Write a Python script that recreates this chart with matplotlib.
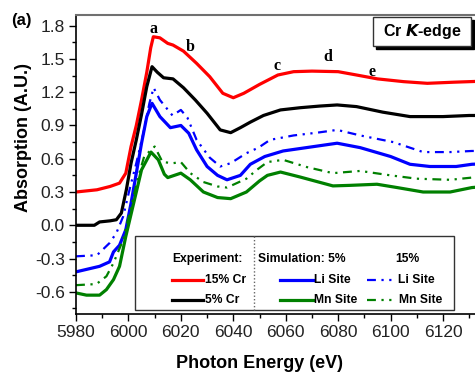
import matplotlib
matplotlib.use("Agg")
import matplotlib.pyplot as plt
from matplotlib.lines import Line2D
from matplotlib.patches import Rectangle
from matplotlib.ticker import MultipleLocator

plt.rcParams['font.family'] = ['Liberation Sans', 'DejaVu Sans']

# ---------------- data ----------------
red_x = [5980, 5988, 5993, 5996.6, 5999, 6001, 6003, 6005, 6007, 6008.5, 6009.5, 6012, 6015, 6017,
         6021, 6026, 6031, 6036, 6040, 6044, 6050, 6057, 6063, 6070, 6080, 6087, 6095, 6105, 6114,
         6124, 6136]
red_y = [0.30, 0.32, 0.35, 0.38, 0.47, 0.71, 0.90, 1.13, 1.38, 1.60, 1.70, 1.69, 1.64, 1.625,
         1.57, 1.46, 1.34, 1.19, 1.15, 1.19, 1.27, 1.355, 1.385, 1.39, 1.385, 1.355, 1.32, 1.295,
         1.28, 1.29, 1.30]

blk_x = [5980, 5987, 5989, 5993, 5995.4, 5997.3, 5999.2, 6001, 6003, 6005, 6007, 6009, 6011,
         6013.4, 6017, 6021, 6025.5, 6030, 6035, 6039, 6042.7, 6046.5, 6051.5, 6058, 6065.5,
         6073, 6079.6, 6087, 6097, 6107.4, 6120, 6130, 6136]
blk_y = [0.0, 0.0, 0.03, 0.04, 0.05, 0.11, 0.32, 0.56, 0.77, 1.00, 1.25, 1.43, 1.38, 1.33, 1.32,
         1.24, 1.13, 1.01, 0.86, 0.835, 0.88, 0.93, 0.99, 1.04, 1.06, 1.075, 1.085, 1.07, 1.02,
         0.98, 0.98, 0.99, 0.99]

li5_x = [5980, 5989, 5992.8, 5994.3, 5996.6, 5999, 6001, 6003, 6005, 6007, 6009, 6012, 6016,
         6020, 6023, 6026, 6030, 6034, 6037.6, 6042.7, 6046.5, 6052, 6059, 6069.3, 6079.6,
         6088.4, 6100, 6107.4, 6115, 6125, 6131, 6136]
li5_y = [-0.42, -0.37, -0.33, -0.24, -0.18, -0.04, 0.20, 0.47, 0.74, 0.98, 1.10, 0.98, 0.88,
         0.90, 0.83, 0.68, 0.53, 0.45, 0.41, 0.45, 0.55, 0.62, 0.67, 0.705, 0.74, 0.70, 0.62,
         0.55, 0.53, 0.53, 0.55, 0.555]

li15_x = [5980, 5988, 5992.8, 5995.4, 5998, 6000.4, 6003, 6005.7, 6008, 6009.6, 6012, 6016.8,
          6020, 6022.5, 6026, 6031, 6035, 6039, 6045, 6049.6, 6054, 6063, 6072, 6079.6, 6088.4,
          6101, 6112.4, 6122.7, 6131, 6136]
li15_y = [-0.28, -0.27, -0.16, -0.07, 0.08, 0.32, 0.56, 0.83, 1.10, 1.24, 1.13, 0.99, 1.04, 0.97,
          0.77, 0.61, 0.53, 0.56, 0.65, 0.70, 0.77, 0.81, 0.835, 0.86, 0.81, 0.75, 0.66, 0.66,
          0.67, 0.67]

mn5_x = [5980, 5984, 5989, 5991.6, 5994.3, 5996.6, 5999, 6002, 6005, 6008.6, 6011.4, 6013.7,
         6015, 6020, 6023.6, 6028.6, 6034, 6039, 6045, 6050, 6053, 6058, 6065.5, 6078, 6084.6,
         6094.8, 6102.5, 6112.4, 6122.7, 6131, 6136]
mn5_y = [-0.61, -0.63, -0.63, -0.58, -0.49, -0.37, -0.10, 0.20, 0.50, 0.66, 0.59, 0.46, 0.43,
         0.47, 0.41, 0.30, 0.25, 0.24, 0.30, 0.40, 0.45, 0.48, 0.435, 0.355, 0.36, 0.37, 0.34,
         0.30, 0.30, 0.34, 0.35]

mn15_x = [5980, 5987.8, 5991.6, 5994.3, 5998, 6000.4, 6003.8, 6006, 6010, 6013, 6017, 6020,
          6023.6, 6028.6, 6034, 6037.6, 6045, 6049, 6053, 6059, 6068, 6078, 6088.4, 6100, 6110,
          6122.7, 6131, 6136]
mn15_y = [-0.54, -0.53, -0.46, -0.34, -0.13, 0.11, 0.44, 0.62, 0.71, 0.57, 0.56, 0.57, 0.47,
          0.39, 0.35, 0.34, 0.42, 0.50, 0.57, 0.59, 0.525, 0.47, 0.49, 0.45, 0.42, 0.41, 0.43,
          0.43]

peak_labels = ['a', 'b', 'c', 'd', 'e']
peak_x = [6009.5, 6023.5, 6056.5, 6076, 6093]
peak_y = [1.77, 1.61, 1.44, 1.52, 1.38]

x_ticks = [5980, 6000, 6020, 6040, 6060, 6080, 6100, 6120]
y_ticks = [-0.6, -0.3, 0.0, 0.3, 0.6, 0.9, 1.2, 1.5, 1.8]

# ---------------- figure ----------------
W, H = 475, 372
fig = plt.figure(figsize=(W / 100, H / 100), dpi=100)
L, R, T, B = 76, 480, 15, 314
ax = fig.add_axes([L / W, 1 - B / H, (R - L) / W, (B - T) / H])
ax.set_xlim(5980, 5980 + (R - 75.5) / 2.625)
ax.set_ylim(-0.80, 1.896)

RED, BLK, BLUE, GRN = '#ff0000', '#000000', '#0000ff', '#008000'
dd = (0, (4, 2.5, 1, 2.5, 1, 2.5))
ax.plot(red_x, red_y, color=RED, lw=2.3, solid_joinstyle='round')
ax.plot(blk_x, blk_y, color=BLK, lw=2.3, solid_joinstyle='round')
ax.plot(li5_x, li5_y, color=BLUE, lw=2.3, solid_joinstyle='round')
ax.plot(li15_x, li15_y, color=BLUE, lw=1.6, linestyle=dd)
ax.plot(mn5_x, mn5_y, color=GRN, lw=2.3, solid_joinstyle='round')
ax.plot(mn15_x, mn15_y, color=GRN, lw=1.6, linestyle=dd)

for lab, px, py in zip(peak_labels, peak_x, peak_y):
    ax.text(px, py, lab, family='Liberation Serif', fontweight='bold', fontsize=11.5,
            ha='center', va='center')

ax.set_xticks(x_ticks)
ax.set_yticks(y_ticks)
ax.set_yticklabels([f'{v:.1f}' for v in y_ticks])
ax.xaxis.set_minor_locator(MultipleLocator(10))
ax.yaxis.set_minor_locator(MultipleLocator(0.15))
ax.tick_params(which='major', direction='out', length=5, width=1, labelsize=12.5,
               colors='black', labelcolor='#222222', pad=3)
ax.tick_params(which='minor', direction='out', length=3, width=1)
for s in ['left', 'bottom']:
    ax.spines[s].set_linewidth(1.2)
ax.spines['top'].set_color('#707070')
ax.spines['top'].set_linewidth(1.5)
ax.spines['right'].set_visible(False)

fig.text(260 / W, 1 - 363 / H, 'Photon Energy (eV)', fontsize=13, fontweight='bold',
         ha='center', va='center')
fig.text(24 / W, 1 - 137 / H, 'Absorption (A.U.)', fontsize=13, fontweight='bold',
         ha='center', va='center', rotation=90)
fig.text(21 / W, 1 - 20 / H, '(a)', fontsize=12, fontweight='bold', ha='center', va='center')

# helper for pixel coords
def fx(p):
    return p / W

def fy(p):
    return 1 - p / H

# Cr K-edge box with shadow
fig.patches.append(Rectangle((fx(376), fy(48.5)), (471 - 373) / W, (45.5 - 17) / H,
                             transform=fig.transFigure, facecolor='black', edgecolor='black',
                             zorder=5))
fig.patches.append(Rectangle((fx(373), fy(45.5)), (471 - 373) / W, (45.5 - 17) / H,
                             transform=fig.transFigure, facecolor='white', edgecolor='#333333',
                             lw=1, zorder=6))
fig.text(fx(422), fy(31.5), r'Cr $\bfit{K}$-edge', fontsize=11.5, fontweight='bold',
         ha='center', va='center', zorder=7)

# legend box
fig.patches.append(Rectangle((fx(135), fy(310)), (454 - 135) / W, (310 - 236) / H,
                             transform=fig.transFigure, facecolor='white', edgecolor='#333333',
                             lw=1, zorder=5))
fig.lines.append(Line2D([fx(254), fx(254)], [fy(236), fy(310)], transform=fig.transFigure,
                        color='#666666', lw=1, linestyle=(0, (1, 1.5)), zorder=6))
lf = dict(fontsize=8.7, fontweight='bold', va='center', ha='left', zorder=7)
fig.text(fx(172), fy(259), 'Experiment:', **lf)
fig.text(fx(258), fy(259), 'Simulation: 5%', **lf)
fig.text(fx(395), fy(259), '15%', **lf)

def leg_line(x0, x1, y, color, ls='-', lw=2.3):
    fig.lines.append(Line2D([fx(x0), fx(x1)], [fy(y), fy(y)], transform=fig.transFigure,
                            color=color, lw=lw, linestyle=ls, zorder=7))

leg_line(172, 203, 280, RED)
fig.text(fx(205), fy(280), '15% Cr', **lf)
leg_line(172, 203, 300, BLK)
fig.text(fx(205), fy(300), '5% Cr', **lf)
leg_line(280, 313, 280, BLUE)
fig.text(fx(314), fy(280), 'Li Site', **lf)
leg_line(280, 313, 300, GRN)
fig.text(fx(314), fy(300), 'Mn Site', **lf)
leg_line(367, 396, 280, BLUE, dd, 1.6)
fig.text(fx(398), fy(280), 'Li Site', **lf)
leg_line(367, 396, 300, GRN, dd, 1.6)
fig.text(fx(399), fy(300), 'Mn Site', **lf)

fig.savefig('out.png', dpi=100)
